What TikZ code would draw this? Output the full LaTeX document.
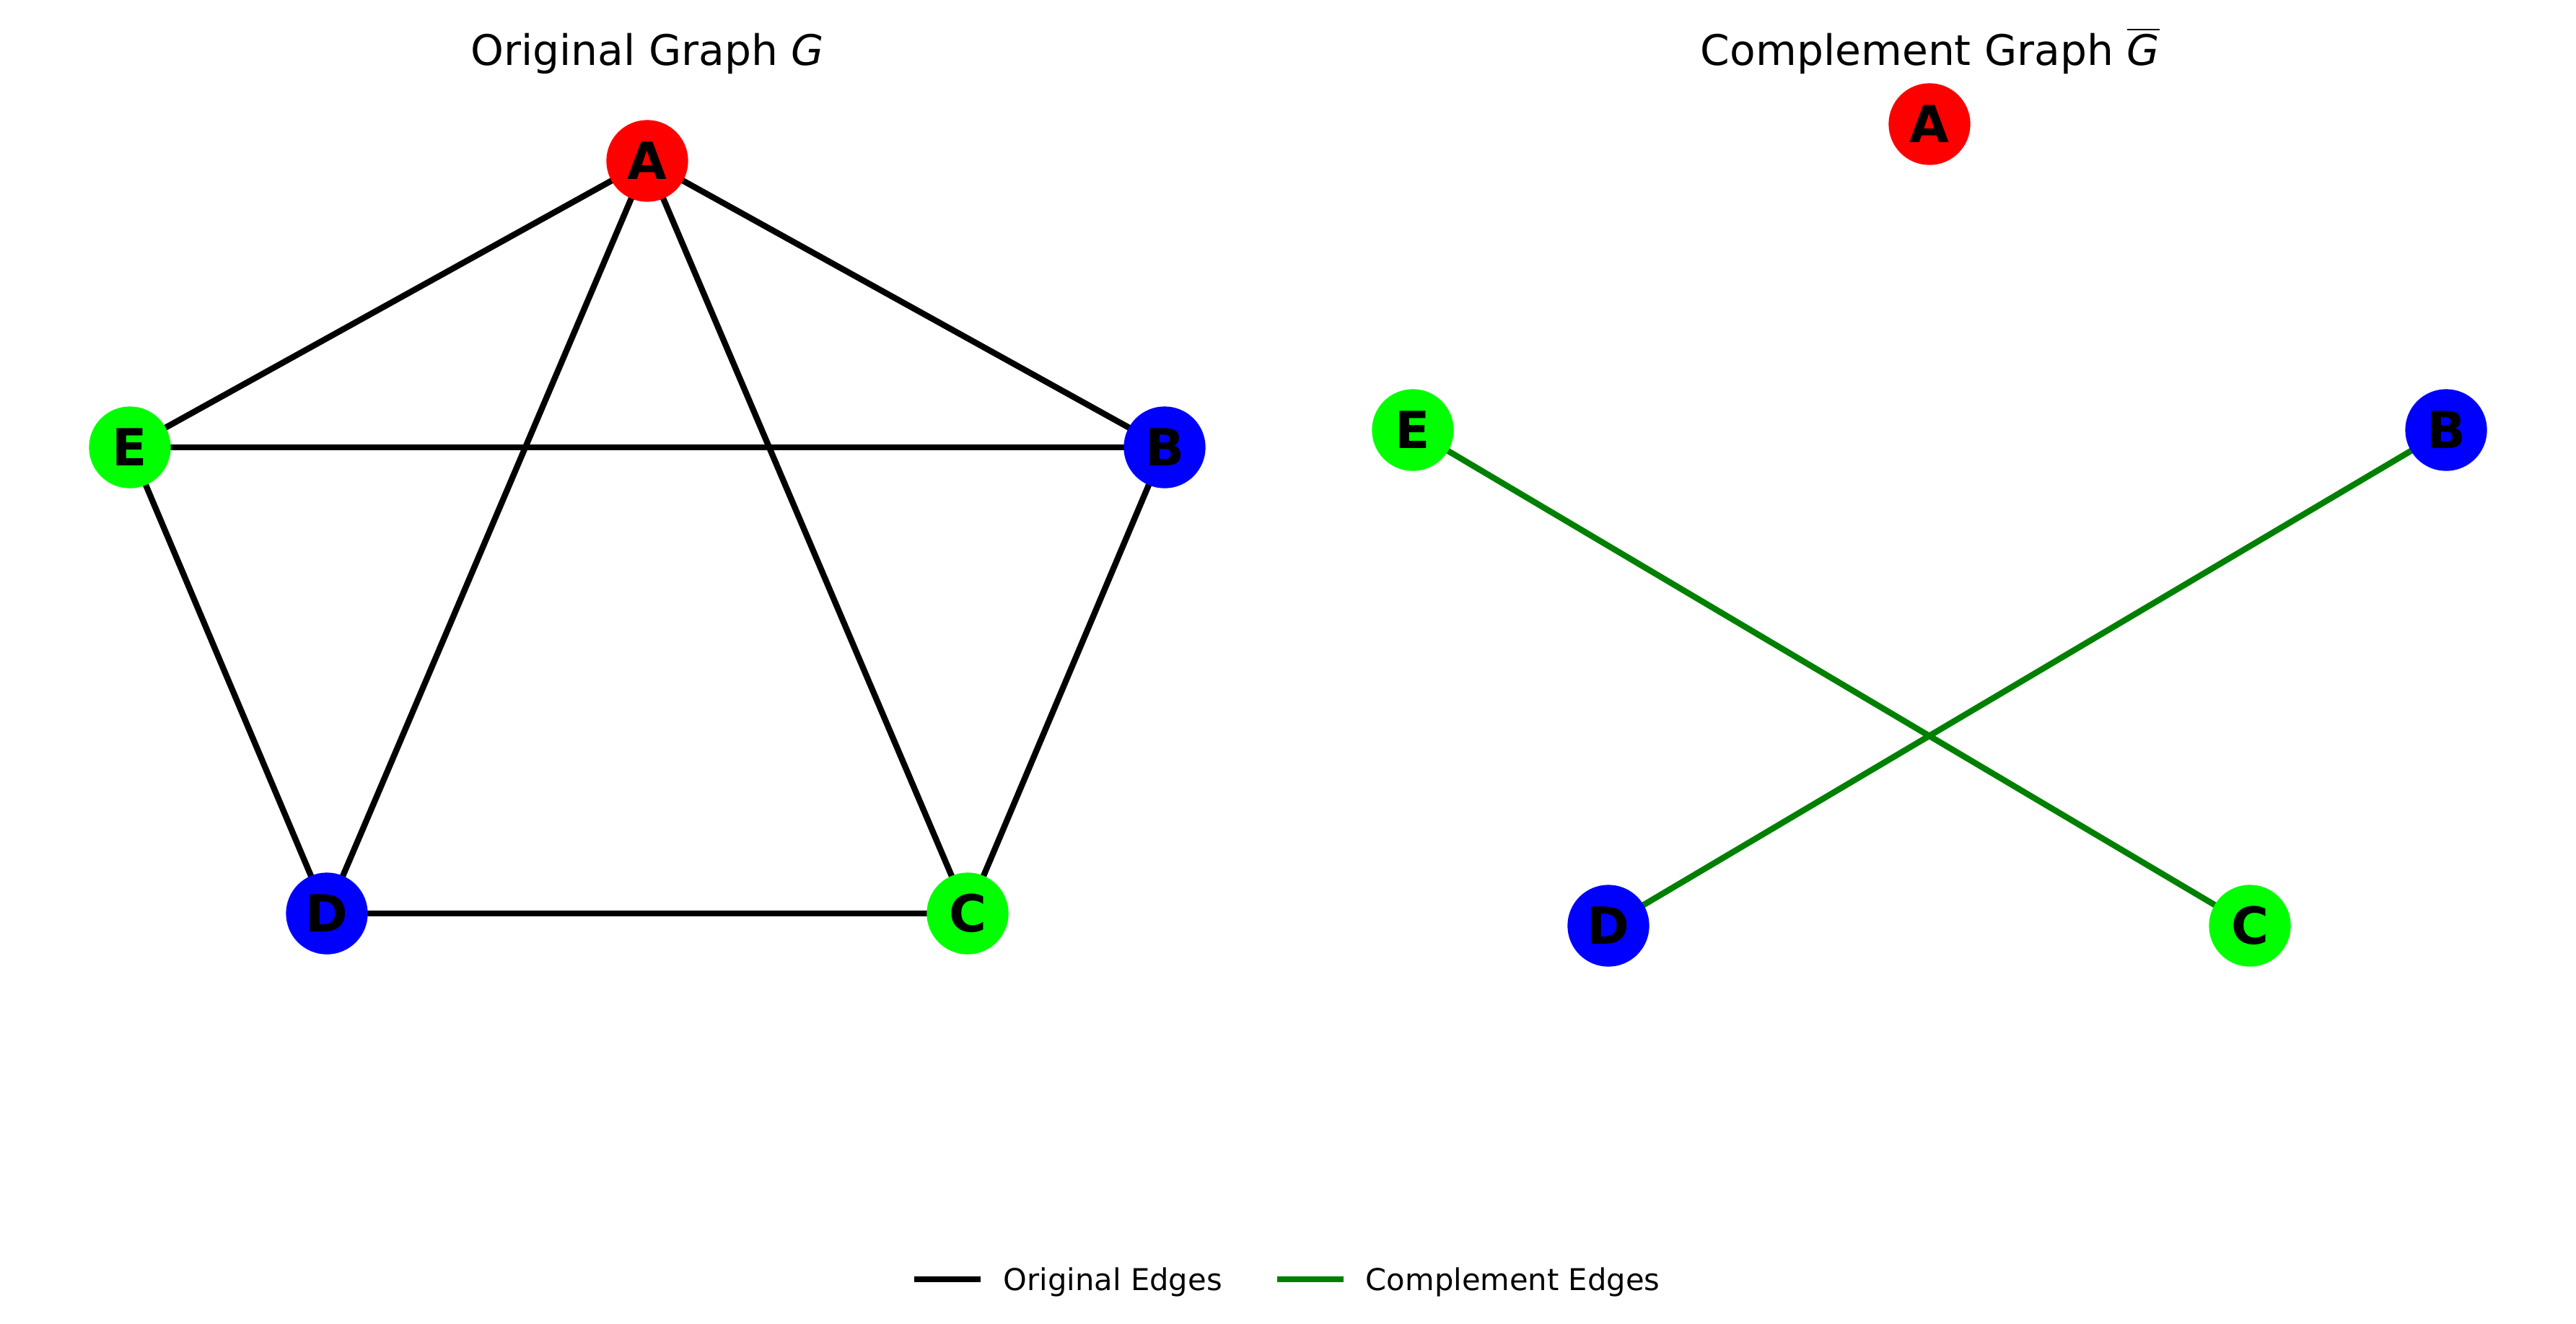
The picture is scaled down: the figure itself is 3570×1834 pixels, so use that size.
\documentclass[tikz,border=0pt]{standalone}
\usepackage{fontspec}
\setmainfont{DejaVu Sans}
\usetikzlibrary{backgrounds}
\definecolor{nred}{RGB}{255,0,0}
\definecolor{nblue}{RGB}{0,0,255}
\definecolor{ngreen}{RGB}{0,255,0}
\definecolor{egreen}{RGB}{0,128,0}
\begin{document}
\begin{tikzpicture}[x=0.24pt,y=-0.24pt,
  vert/.style={circle,inner sep=0pt,minimum size=27.2pt,font=\fontsize{17}{20}\selectfont\bfseries,text=black},
  oedge/.style={draw=black,line width=2pt},
  cedge/.style={draw=egreen,line width=2pt},
  ttl/.style={anchor=base,font=\fontsize{14}{17}\selectfont,inner sep=0pt},
  lgd/.style={anchor=base west,font=\fontsize{10}{12}\selectfont,inner sep=0pt}]
\useasboundingbox (0,0) rectangle (3570,1834);
% titles
\node[ttl] (t1) at (897,90) {Original Graph \textit{G}};
\node[ttl] (t2) at (2675,90) {Complement Graph $\overline{\mbox{\itshape G}}$};
% original graph
\node[vert,fill=nred]   (A) at (897,223) {A};
\node[vert,fill=nblue]  (B) at (1614,620) {B};
\node[vert,fill=ngreen] (C) at (1341,1266) {C};
\node[vert,fill=nblue]  (D) at (453,1266) {D};
\node[vert,fill=ngreen] (E) at (180,620) {E};
% complement graph
\node[vert,fill=nred]   (A2) at (2674,172) {A};
\node[vert,fill=nblue]  (B2) at (3390,596) {B};
\node[vert,fill=ngreen] (C2) at (3118,1283) {C};
\node[vert,fill=nblue]  (D2) at (2229,1283) {D};
\node[vert,fill=ngreen] (E2) at (1958,596) {E};
\begin{pgfonlayer}{background}
\draw[oedge] (A.center) -- (B.center);
\draw[oedge] (A.center) -- (C.center);
\draw[oedge] (A.center) -- (D.center);
\draw[oedge] (A.center) -- (E.center);
\draw[oedge] (B.center) -- (C.center);
\draw[oedge] (B.center) -- (E.center);
\draw[oedge] (C.center) -- (D.center);
\draw[oedge] (D.center) -- (E.center);
\draw[cedge] (E2.center) -- (C2.center);
\draw[cedge] (B2.center) -- (D2.center);
\end{pgfonlayer}
% legend
\coordinate (l1a) at (1267,1773);
\coordinate (l1b) at (1359,1773);
\coordinate (l2a) at (1770,1773);
\coordinate (l2b) at (1862,1773);
\draw[oedge] (l1a) -- (l1b);
\draw[cedge] (l2a) -- (l2b);
\node[lgd] (lt1) at (1390,1788) {Original Edges};
\node[lgd] (lt2) at (1892,1788) {Complement Edges};
\end{tikzpicture}
\end{document}
